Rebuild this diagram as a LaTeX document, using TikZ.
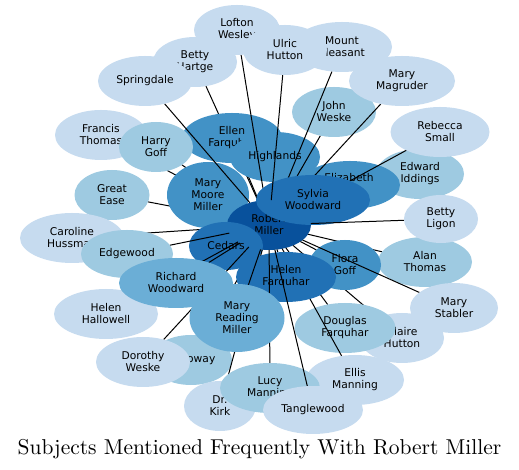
\documentclass[tikz,border=0pt]{standalone}
\usepackage{fontspec}
\newfontfamily\labfont{DejaVu Sans}
\newfontfamily\titlefont[Extension=.otf]{lmroman10-regular}
\usetikzlibrary{shapes.geometric}
\definecolor{cA}{HTML}{C6DBEF}
\definecolor{cB}{HTML}{9ECAE1}
\definecolor{cC}{HTML}{6BAED6}
\definecolor{cD}{HTML}{4292C6}
\definecolor{cE}{HTML}{2171B5}
\definecolor{cF}{HTML}{08519C}
\newcommand\defbub[5]{\tikzset{sz#1/.style={minimum width=#4pt,minimum height=#5pt}}\node[shp,sz#1] (#1) at (#2,#3) {};}
\newcommand\putbub[3]{\draw[link] (rm) -- (#1); \node[shp,sz#1,fill=#2,lab] (#1-f) at (#1.center) {#3};}
\begin{document}
\begin{tikzpicture}[x=1pt,y=1pt,
  shp/.style={ellipse,inner sep=0pt,outer sep=0pt,draw=none},
  link/.style={draw=black,line width=1pt},
  lab/.style={font={\labfont\fontsize{10.7}{12}\selectfont},align=center,text=black}]
\useasboundingbox (0,0) rectangle (519,470);
% shapes (invisible), used for connector ends
\defbub{ft}{101}{335}{92}{50}
\defbub{bh}{195}{408}{84}{50}
\defbub{ef}{232}{332}{100}{50}
\defbub{hg}{156}{323}{74}{50}
\defbub{ge}{112}{275}{75}{50}
\defbub{hl}{275}{313}{90}{50}
\defbub{lw}{237}{440}{86}{50}
\defbub{jw}{334}{358}{84}{50}
\defbub{mp}{342}{423}{100}{50}
\defbub{ei}{420}{296}{88}{50}
\defbub{el}{350}{285}{100}{48}
\defbub{mg}{402}{389}{106}{50}
\defbub{rs}{440}{338}{99}{50}
\defbub{mmm}{208}{275}{82}{66}
\defbub{sp}{145}{389}{94}{50}
\defbub{rm}{269}{245}{84}{50}
\defbub{sw}{313}{270}{114}{50}
\defbub{uh}{285}{420}{84}{50}
\defbub{ch}{72}{232}{104}{50}
\defbub{ho}{191}{110}{82}{50}
\defbub{ce}{226}{224}{74}{48}
\defbub{ed}{127}{216}{92}{48}
\defbub{hh}{106}{156}{104}{50}
\defbub{dw}{143}{108}{94}{50}
\defbub{rw}{176}{187}{114}{50}
\defbub{at}{425}{208}{94}{50}
\defbub{clh}{402}{132}{84}{50}
\defbub{fg}{345}{205}{72}{50}
\defbub{ms}{454}{162}{88}{50}
\defbub{bl}{441}{251}{74}{48}
\defbub{df}{345}{142}{101}{50}
\defbub{em}{355}{90}{98}{50}
\defbub{dk}{220}{64}{72}{50}
\defbub{hf}{286}{193}{100}{50}
\defbub{lm}{270}{82}{100}{50}
\defbub{mrm}{237}{152}{95}{68}
\defbub{tw}{313}{60}{100}{48}
% drawing, in stacking order
\putbub{ft}{cA}{Francis\\Thomas}
\putbub{bh}{cA}{Betty\\Hartge}
\putbub{ef}{cD}{Ellen\\Farquhar}
\putbub{hg}{cB}{Harry\\Goff}
\putbub{ge}{cB}{Great\\Ease}
\putbub{hl}{cD}{Highlands}
\putbub{lw}{cA}{Lofton\\Wesley}
\putbub{jw}{cB}{John\\Weske}
\putbub{mp}{cA}{Mount\\Pleasant}
\putbub{ei}{cB}{Edward\\Iddings}
\putbub{el}{cD}{}
\node[lab] (el-t) at (349,292) {Elizabeth};
\putbub{mg}{cA}{Mary\\Magruder}
\putbub{rs}{cA}{Rebecca\\Small}
\putbub{mmm}{cD}{Mary\\Moore\\Miller}
\putbub{sp}{cA}{Springdale}
\node[shp,szrm,fill=cF,lab] (rm-f) at (rm.center) {Robert\\Miller};
\putbub{sw}{cE}{Sylvia\\Woodward}
\putbub{uh}{cA}{Ulric\\Hutton}
\putbub{ch}{cA}{Caroline\\Hussman}
\putbub{ho}{cB}{Holloway}
\putbub{ce}{cE}{Cedars}
\putbub{ed}{cB}{Edgewood}
\putbub{hh}{cA}{Helen\\Hallowell}
\putbub{dw}{cA}{Dorothy\\Weske}
\putbub{rw}{cC}{Richard\\Woodward}
\putbub{at}{cB}{Alan\\Thomas}
\putbub{clh}{cA}{Claire\\Hutton}
\putbub{fg}{cD}{Flora\\Goff}
\putbub{ms}{cA}{Mary\\Stabler}
\putbub{bl}{cA}{Betty\\Ligon}
\putbub{df}{cB}{Douglas\\Farquhar}
\putbub{em}{cA}{Ellis\\Manning}
\putbub{dk}{cA}{Dr.\\Kirk}
\putbub{hf}{cE}{Helen\\Farquhar}
\putbub{lm}{cB}{Lucy\\Manning}
\putbub{mrm}{cC}{Mary\\Reading\\Miller}
\putbub{tw}{cA}{Tanglewood}
% title
\node[anchor=base,inner sep=0pt,font={\titlefont\fontsize{21.5}{25}\selectfont}] (title) at (259.5,15) {Subjects Mentioned Frequently With Robert Miller};
\end{tikzpicture}
\end{document}
